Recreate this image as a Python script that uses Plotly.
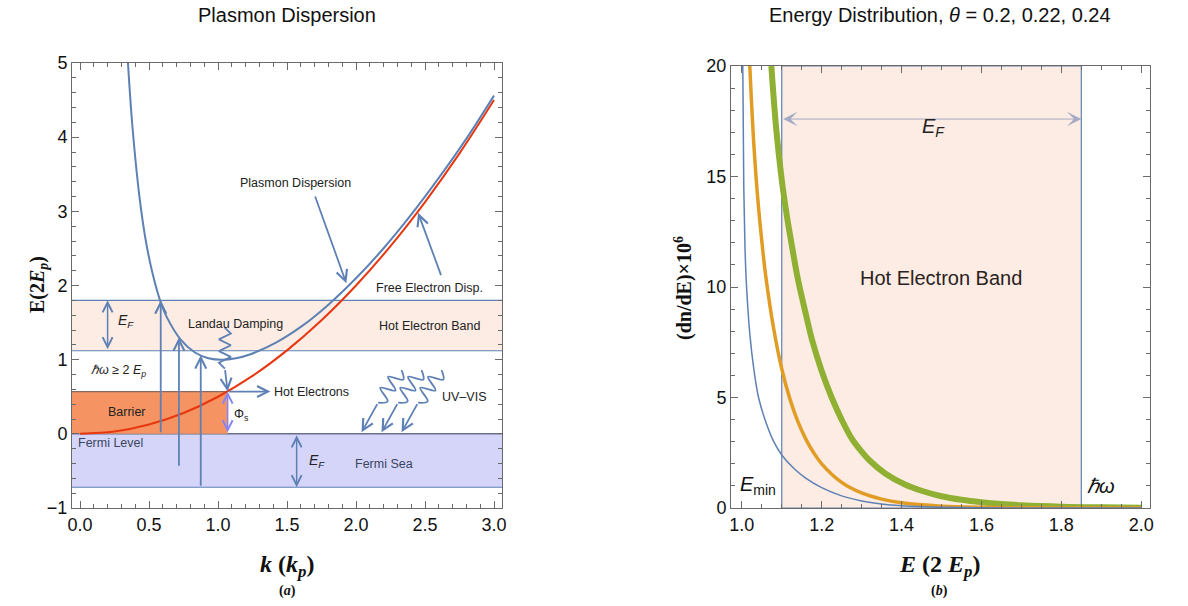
import plotly.graph_objects as go
import numpy as np

# ---------------- data: left panel (Plasmon dispersion) ----------------
K_PLASMON = [0.33, 0.35, 0.38, 0.43, 0.48, 0.53, 0.58, 0.63, 0.73, 0.83, 0.93, 1.03,
             1.13, 1.23, 1.42, 1.61, 1.80, 2.00, 2.20, 2.40, 2.60, 2.80, 3.00]
E_PLASMON = [5.60, 4.93, 4.14, 3.21, 2.57, 2.13, 1.80, 1.57, 1.27, 1.10, 1.02, 1.00,
             1.02, 1.07, 1.23, 1.455, 1.742, 2.097, 2.502, 2.955, 3.45, 3.98, 4.56]
K_FREE = [0.0, 0.25, 0.5, 0.75, 1.0, 1.25, 1.5, 1.75, 2.0, 2.25, 2.5, 2.75, 3.0]
E_FREE = [0.0, 0.031, 0.125, 0.281, 0.5, 0.781, 1.125, 1.531, 2.0, 2.531, 3.125, 3.781, 4.5]

FERMI_SEA_BOTTOM = -0.72
BARRIER_TOP = 0.57
BARRIER_K = 1.07
HOT_BAND = (1.12, 1.80)
# excitation arrows: (k, start E, end E)
EXCITATIONS = [(0.585, 0.0, 1.80), (0.717, -0.45, 1.30), (0.875, -0.72, 1.06)]

# ---------------- data: right panel (energy distribution) ----------------
E_BLUE = [1.0025, 1.005, 1.008, 1.012, 1.02, 1.03, 1.042, 1.06, 1.08, 1.10, 1.13, 1.16, 1.20,
          1.25, 1.30, 1.35, 1.40, 1.45, 1.50, 1.60, 1.80, 2.00]
N_BLUE = [20.0, 14.5, 11.8, 10.0, 7.9, 6.3, 5.0, 3.9, 3.0, 2.4, 1.8, 1.35, 0.92,
          0.55, 0.32, 0.18, 0.10, 0.055, 0.03, 0.01, 0.002, 0.0]
E_ORANGE = [1.02, 1.03, 1.04, 1.05, 1.06, 1.08, 1.10, 1.12, 1.14, 1.16, 1.18, 1.20, 1.25,
            1.30, 1.35, 1.40, 1.50, 1.60, 1.70, 1.80, 2.00]
N_ORANGE = [20.0, 16.5, 14.0, 12.1, 10.5, 8.1, 6.3, 4.96, 3.93, 3.13, 2.50, 2.00, 1.16,
            0.68, 0.40, 0.237, 0.084, 0.030, 0.011, 0.004, 0.0005]
E_GREEN = [1.074, 1.086, 1.099, 1.113, 1.128, 1.14, 1.16, 1.176, 1.20, 1.225, 1.25, 1.275, 1.30,
           1.32, 1.36, 1.41, 1.45, 1.50, 1.55, 1.60, 1.65, 1.70, 1.80, 1.90, 2.00]
N_GREEN = [20.0, 17.2, 15.0, 13.2, 11.6, 10.4, 8.8, 7.6, 6.2, 5.0, 4.0, 3.15, 2.55,
           2.15, 1.55, 1.05, 0.78, 0.53, 0.37, 0.26, 0.18, 0.125, 0.06, 0.03, 0.015]
E_MIN = 1.1
HBAR_OMEGA = 1.85

BLUE = "#5E81B5"
RED = "rgb(232,55,15)"
ORANGE = "#E19C24"
GREEN = "#8FB032"
FRAME = "#6a6a6a"
SANS = "Liberation Sans, Arial, sans-serif"
SERIF = "Liberation Serif, Times New Roman, serif"

W, H = 1188, 606
XL = (72, 502); YL = (63, 508)
XR = (731, 1150); YR = (66, 508)
X1_RANGE = [-0.058, 3.058]
Y1_RANGE = [-1, 5]
X2_RANGE = [0.973, 2.022]
Y2_RANGE = [0, 20]

fig = go.Figure()

fig.add_trace(go.Scatter(x=K_FREE, y=E_FREE, mode="lines", line=dict(color=RED, width=2, shape="spline"),
                         xaxis="x", yaxis="y", hoverinfo="skip"))
fig.add_trace(go.Scatter(x=K_PLASMON, y=E_PLASMON, mode="lines", line=dict(color=BLUE, width=2, shape="spline"),
                         xaxis="x", yaxis="y", hoverinfo="skip"))

for ex, ny, col, w in [(E_GREEN, N_GREEN, GREEN, 6), (E_ORANGE, N_ORANGE, ORANGE, 3.5), (E_BLUE, N_BLUE, BLUE, 1.5)]:
    fig.add_trace(go.Scatter(x=ex, y=ny, mode="lines", line=dict(color=col, width=w, shape="spline"),
                             xaxis="x2", yaxis="y2", hoverinfo="skip"))

# pixel scale of left panel (for wavy arrows)
PX_X = (XL[1] - XL[0]) / (X1_RANGE[1] - X1_RANGE[0])
PX_Y = (YL[1] - YL[0]) / (Y1_RANGE[1] - Y1_RANGE[0])


def wavy(p0, p1, nhalf, amp_px):
    x0, y0 = p0[0] * PX_X, p0[1] * PX_Y
    x1, y1 = p1[0] * PX_X, p1[1] * PX_Y
    dx, dy = x1 - x0, y1 - y0
    L = np.hypot(dx, dy)
    nx, ny = -dy / L, dx / L
    xs, ys = [], []
    for i in range(nhalf + 1):
        t = i / nhalf
        s = 0 if i in (0, nhalf) else (1 if i % 2 else -1)
        xs.append((x0 + t * dx + s * amp_px * nx) / PX_X)
        ys.append((y0 + t * dy + s * amp_px * ny) / PX_Y)
    return xs, ys


annotations = []


def arrow(p0, p1, xref="x", yref="y", color=BLUE, width=1.8, head=5, size=1.2, side="end"):
    annotations.append(dict(x=p1[0], y=p1[1], ax=p0[0], ay=p0[1], xref=xref, yref=yref, axref=xref, ayref=yref,
                            text="", showarrow=True, arrowhead=head, arrowsize=size, arrowwidth=width,
                            arrowcolor=color, arrowside=side, startarrowhead=head, startarrowsize=size))


def label(x, y, text, size=12.5, xref="x", yref="y", color="#222", font=SANS, angle=0, xanchor="center"):
    annotations.append(dict(x=x, y=y, xref=xref, yref=yref, text=text, showarrow=False, textangle=angle,
                            xanchor=xanchor, yanchor="middle", font=dict(family=font, size=size, color=color)))


# Landau damping zigzag
zx, zy = wavy((1.05, 1.43), (1.05, 0.88), 7, 6)
fig.add_trace(go.Scatter(x=zx, y=zy, mode="lines", line=dict(color=BLUE, width=1.8), xaxis="x", yaxis="y",
                         hoverinfo="skip"))
arrow((1.05, 0.88), (BARRIER_K, BARRIER_TOP))

# UV-VIS wavy arrows
for dk in [0.0, 0.145, 0.29]:
    p0 = (2.33 + dk, 0.86); p1 = (2.16 + dk, 0.42); tip = (2.04 + dk, 0.02)
    wx, wy = wavy(p0, p1, 6, 7)
    fig.add_trace(go.Scatter(x=wx, y=wy, mode="lines", line=dict(color=BLUE, width=1.8, shape="spline"),
                             xaxis="x", yaxis="y", hoverinfo="skip"))
    arrow(p1, tip)

# excitation arrows
for k, e0, e1 in EXCITATIONS:
    arrow((k, e0), (k, e1))

arrow((BARRIER_K, BARRIER_TOP), (1.38, BARRIER_TOP))               # hot electrons
arrow((BARRIER_K, 0.0), (BARRIER_K, BARRIER_TOP), color="#8585F5", width=1.5, side="end+start", size=1.3)
arrow((0.2, HOT_BAND[0]), (0.2, HOT_BAND[1]), width=1.5, side="end+start", size=1.3)
arrow((1.57, 0.0), (1.57, FERMI_SEA_BOTTOM), width=1.5, side="end+start", size=1.3)
arrow((1.70, 3.22), (1.93, 2.03))                                  # plasmon dispersion pointer
arrow((2.62, 2.12), (2.45, 2.98))                                  # free electron pointer

label(1.56, 3.38, "Plasmon Dispersion")
label(2.53, 1.97, "Free Electron Disp.")
label(1.13, 1.48, "Landau Damping")
label(2.53, 1.45, "Hot Electron Band")
label(0.33, 1.52, "<i>E<sub>F</sub></i>", size=14)
label(0.28, 0.85, "<i>ℏω</i> ≥ 2 <i>E<sub>p</sub></i>")
label(1.68, 0.57, "Hot Electrons")
label(2.78, 0.50, "UV–VIS")
label(0.34, 0.30, "Barrier")
label(1.17, 0.26, "Φ<sub>s</sub>")
label(0.22, -0.12, "Fermi Level", color="#3a4560")
label(1.72, -0.36, "<i>E<sub>F</sub></i>", size=14)
label(2.20, -0.40, "Fermi Sea", color="#3a4560")

# right panel labels
arrow((E_MIN, 17.6), (HBAR_OMEGA, 17.6), xref="x2", yref="y2", color="#A3AAC4", width=1, head=3, size=2.4,
      side="end+start")
label(1.48, 17.2, "<i>E<sub>F</sub></i>", size=20, xref="x2", yref="y2")
label(1.50, 10.4, "Hot Electron Band", size=20, xref="x2", yref="y2", color="#2a2220")
label(1.04, 1.0, "<i>E</i><sub>min</sub>", size=20, xref="x2", yref="y2", color="#111")
label(1.90, 1.0, "<i>ℏω</i>", size=20, xref="x2", yref="y2", color="#111")

# titles & axis titles
label(287 / W, 1 - 15 / H, "Plasmon Dispersion", size=20, xref="paper", yref="paper", color="#111")
label(940 / W, 1 - 15 / H, "Energy Distribution, <i>θ</i> = 0.2, 0.22, 0.24", size=20, xref="paper",
      yref="paper", color="#111")
label(287 / W, 1 - 566 / H, "<b><i>k</i> (<i>k<sub>p</sub></i>)</b>", size=24, xref="paper", yref="paper",
      font=SERIF, color="#111")
label(287 / W, 1 - 591 / H, "<b>(<i>a</i>)</b>", size=14, xref="paper", yref="paper", font=SERIF, color="#111")
label(940 / W, 1 - 566 / H, "<b><i>E</i> (2 <i>E<sub>p</sub></i>)</b>", size=24, xref="paper", yref="paper",
      font=SERIF, color="#111")
label(940 / W, 1 - 591 / H, "<b>(<i>b</i>)</b>", size=14, xref="paper", yref="paper", font=SERIF, color="#111")
label(38 / W, 1 - 285 / H, "<b>E(2<i>E<sub>p</sub></i>)</b>", size=20, xref="paper", yref="paper", font=SERIF,
      color="#111", angle=-90)
label(683 / W, 1 - 288 / H, "<b>(dn/dE)×10<sup>6</sup></b>", size=20, xref="paper", yref="paper", font=SERIF,
      color="#111", angle=-90)

shapes = [
    dict(type="rect", xref="x domain", yref="y", x0=0, x1=1, y0=HOT_BAND[0], y1=HOT_BAND[1],
         fillcolor="rgb(253,236,227)", line=dict(width=0), layer="below"),
    dict(type="rect", xref="x domain", yref="y", x0=0, x1=1, y0=FERMI_SEA_BOTTOM, y1=0,
         fillcolor="rgb(213,213,250)", line=dict(width=0), layer="below"),
    dict(type="rect", xref="x", yref="y", x0=X1_RANGE[0], x1=BARRIER_K, y0=0, y1=BARRIER_TOP,
         fillcolor="rgb(245,148,98)", line=dict(width=0), layer="below"),
    dict(type="line", xref="x", yref="y", x0=X1_RANGE[0], x1=BARRIER_K, y0=BARRIER_TOP, y1=BARRIER_TOP,
         line=dict(color="#8a6a60", width=1.2), layer="below"),
    dict(type="line", xref="x domain", yref="y", x0=0, x1=1, y0=HOT_BAND[0], y1=HOT_BAND[0],
         line=dict(color=BLUE, width=1.2), layer="below"),
    dict(type="line", xref="x domain", yref="y", x0=0, x1=1, y0=HOT_BAND[1], y1=HOT_BAND[1],
         line=dict(color=BLUE, width=1.2), layer="below"),
    dict(type="line", xref="x domain", yref="y", x0=0, x1=1, y0=0, y1=0,
         line=dict(color="#6a7088", width=1.5), layer="below"),
    dict(type="line", xref="x domain", yref="y", x0=0, x1=1, y0=FERMI_SEA_BOTTOM, y1=FERMI_SEA_BOTTOM,
         line=dict(color=BLUE, width=1.2), layer="below"),
    dict(type="rect", xref="x2", yref="y2", x0=E_MIN, x1=HBAR_OMEGA, y0=0, y1=20,
         fillcolor="rgb(253,236,227)", line=dict(color=BLUE, width=1.2), layer="below"),
]

axis_common = dict(showline=True, mirror="allticks", linecolor=FRAME, linewidth=1, ticks="inside",
                   ticklen=7, tickcolor=FRAME, tickwidth=1, showgrid=False, zeroline=False, automargin=False,
                   tickfont=dict(family=SANS, size=18, color="#111"))

fig.update_layout(
    width=W, height=H, margin=dict(l=0, r=0, t=0, b=0, autoexpand=False),
    paper_bgcolor="white", plot_bgcolor="white", showlegend=False,
    xaxis=dict(domain=[XL[0] / W, XL[1] / W], range=X1_RANGE, anchor="y", dtick=0.5, tick0=0,
               tickformat=".1f", minor=dict(dtick=0.1, tick0=0, ticks="inside", ticklen=4, tickcolor=FRAME),
               **axis_common),
    yaxis=dict(domain=[1 - YL[1] / H, 1 - YL[0] / H], range=Y1_RANGE, anchor="x", dtick=1, tick0=0,
               minor=dict(dtick=0.2, tick0=0, ticks="inside", ticklen=4, tickcolor=FRAME), **axis_common),
    xaxis2=dict(domain=[XR[0] / W, XR[1] / W], range=X2_RANGE, anchor="y2", dtick=0.2, tick0=1.0,
                tickformat=".1f", minor=dict(dtick=0.05, tick0=1.0, ticks="inside", ticklen=4, tickcolor=FRAME),
                **axis_common),
    yaxis2=dict(domain=[1 - YR[1] / H, 1 - YR[0] / H], range=Y2_RANGE, anchor="x2", dtick=5, tick0=0,
                minor=dict(dtick=1, tick0=0, ticks="inside", ticklen=4, tickcolor=FRAME), **axis_common),
    shapes=shapes, annotations=annotations,
)

fig.write_html("out.html")
